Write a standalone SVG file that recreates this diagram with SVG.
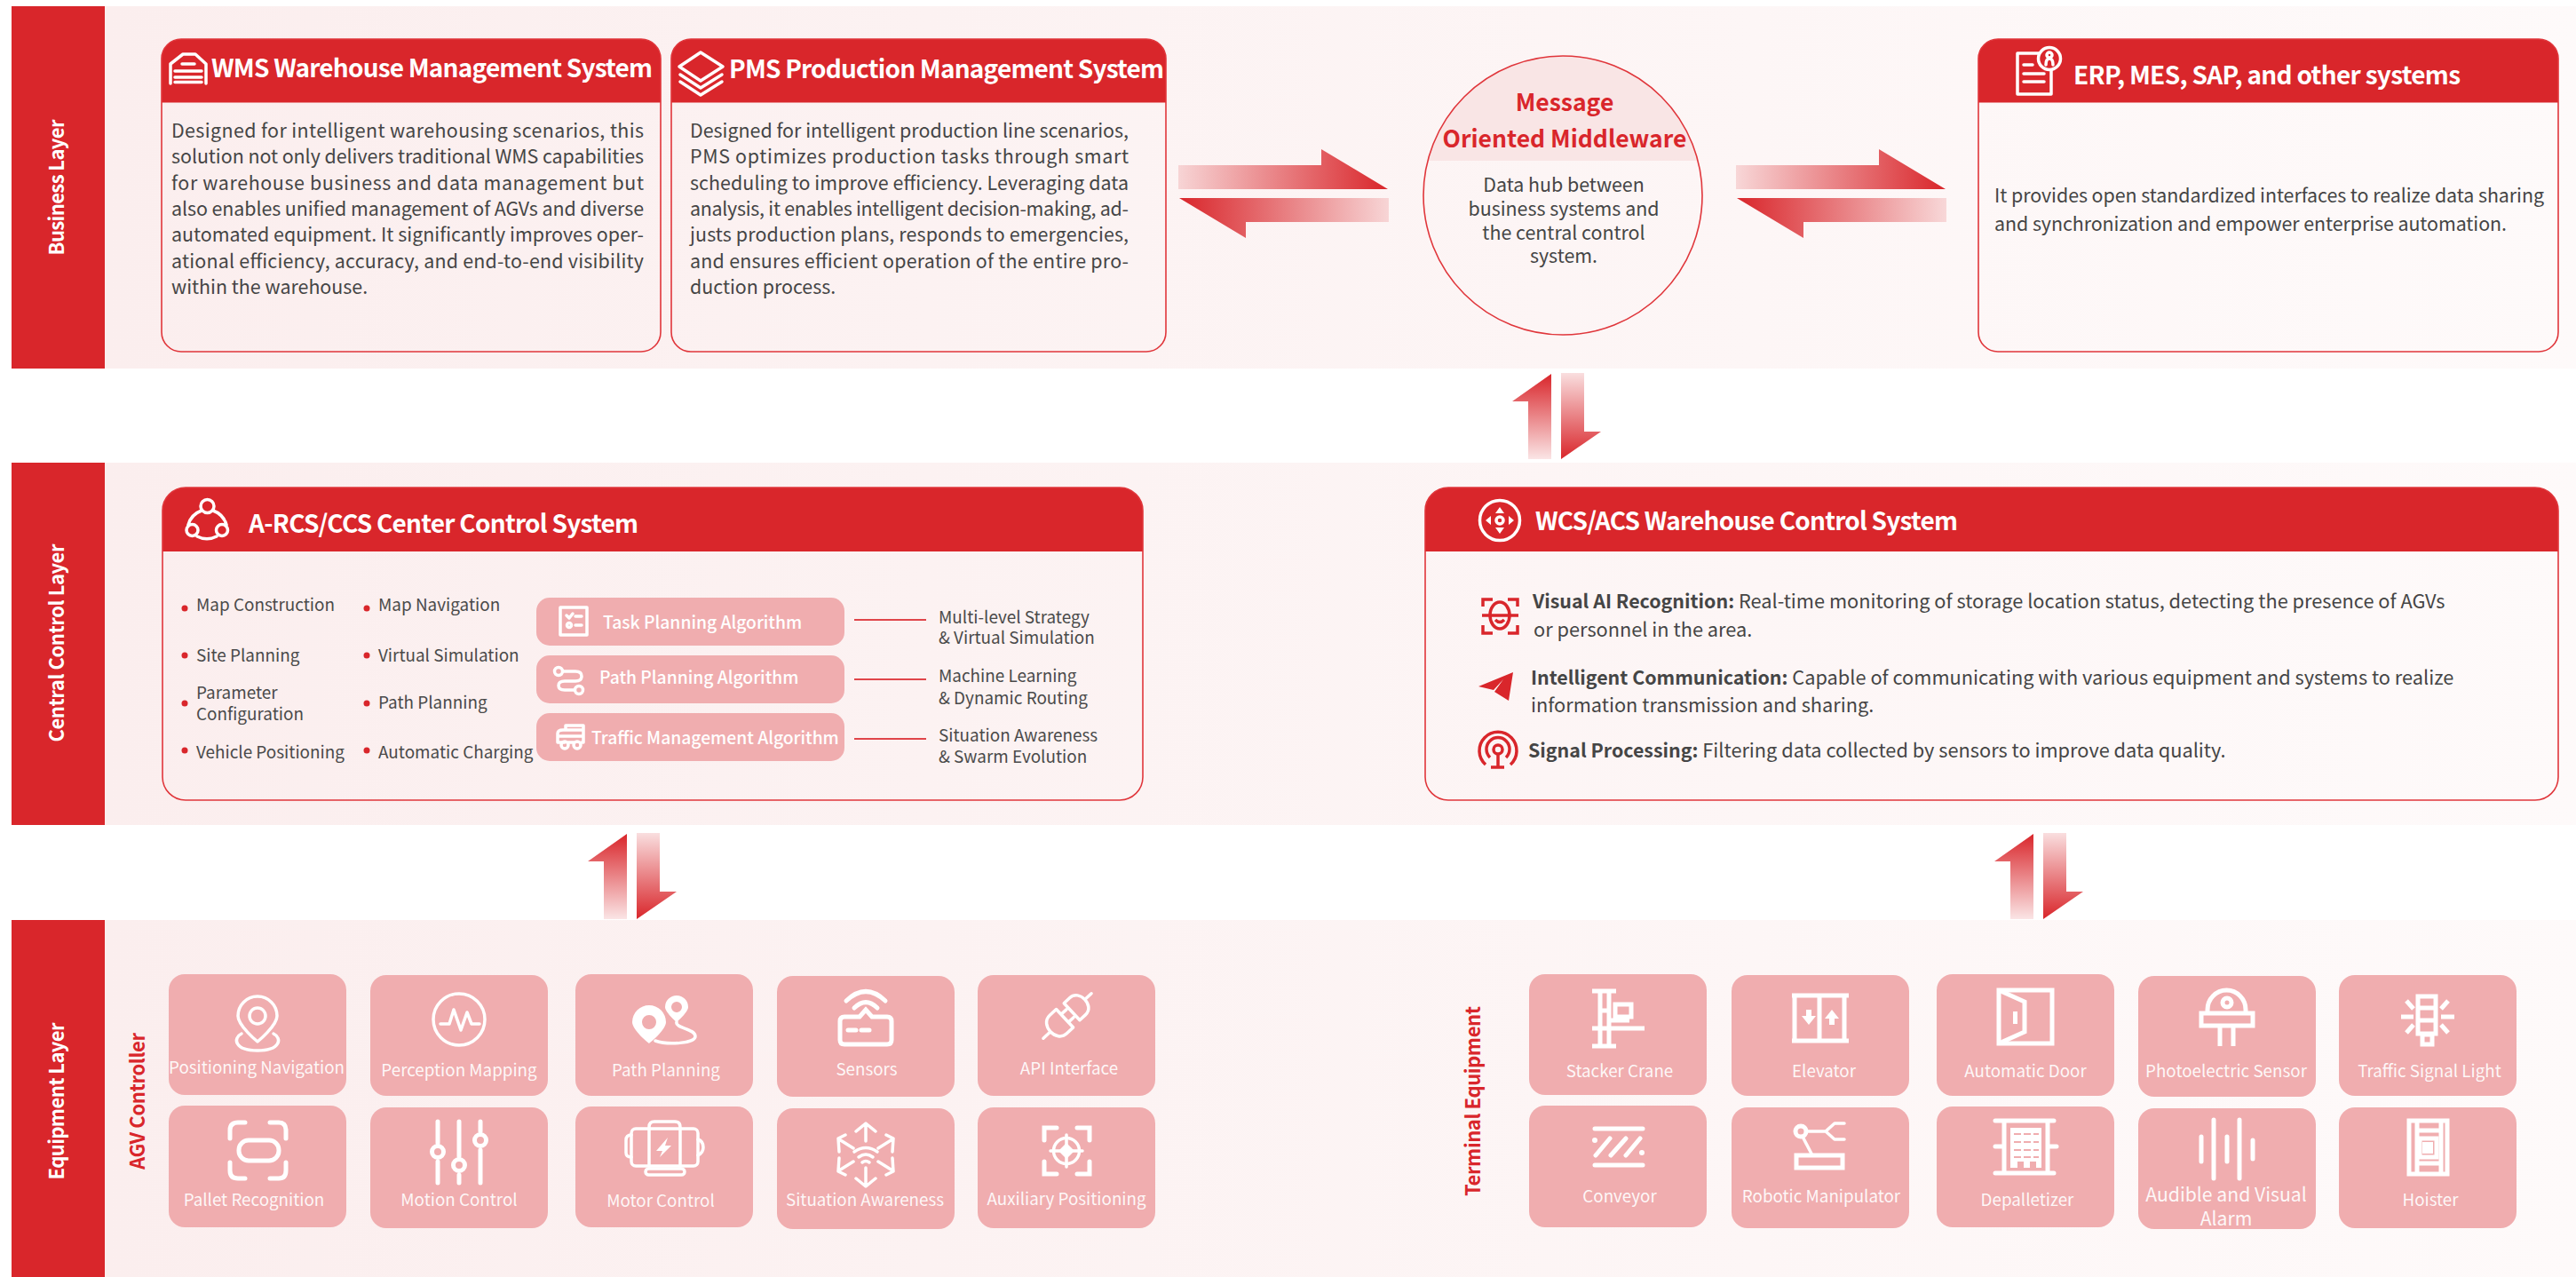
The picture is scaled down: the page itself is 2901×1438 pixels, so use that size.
<svg xmlns="http://www.w3.org/2000/svg" width="2901" height="1438" viewBox="0 0 2901 1438">
<style>
text{font-family:"Noto Sans CJK SC","Noto Sans",sans-serif}
.lay{font-weight:700;font-size:22px;fill:#fff;text-anchor:middle}
.sub{font-weight:700;font-size:22px;fill:#d9262b;text-anchor:middle}
.head{font-weight:700;font-size:28px;fill:#fff}
.body{font-size:21.4px;fill:#454545}
.wb{font-size:21.75px;fill:#454545}
.b{font-weight:700;font-size:21.4px}
.li{font-size:18.9px;fill:#4a4a4a}
.alg{font-weight:500;font-size:19.3px;fill:#fff}
.cap{font-size:18.8px;fill:#fff;text-anchor:middle;fill-opacity:.92}
.big{font-size:21.2px}
.card{fill:none;stroke:#e0363b;stroke-width:1.6}
.hd{fill:#d9262b}
.tile{fill:#f0adaf}
.ic{fill:none;stroke:#fff;stroke-width:3.5;stroke-linecap:round;stroke-linejoin:round}
.ic5{fill:none;stroke:#fff;stroke-width:5;stroke-linecap:round}
.sq{fill:none;stroke:#fff;stroke-width:5}
.wf{fill:#fff}
.ri{fill:none;stroke:#d9262b;stroke-width:3.500}
.dot{fill:#d9262b}
.pk{stroke:#f0adaf;stroke-width:2;fill:none}
.lnk{stroke:#e0454a;stroke-width:2}
</style>
<defs>
<linearGradient id="bg" x1="0" x2="1" y1="0" y2="0"><stop offset="0" stop-color="#fbeeee"/><stop offset="1" stop-color="#fefafa"/></linearGradient>
<linearGradient id="toR" x1="0" x2="1" y1="0" y2="0"><stop offset="0" stop-color="#d9262b" stop-opacity=".15"/><stop offset="1" stop-color="#d9262b"/></linearGradient>
<linearGradient id="toL" x1="1" x2="0" y1="0" y2="0"><stop offset="0" stop-color="#d9262b" stop-opacity=".15"/><stop offset="1" stop-color="#d9262b"/></linearGradient>
<linearGradient id="toU" x1="0" x2="0" y1="1" y2="0"><stop offset="0" stop-color="#d9262b" stop-opacity=".12"/><stop offset="1" stop-color="#d9262b"/></linearGradient>
<linearGradient id="toD" x1="0" x2="0" y1="0" y2="1"><stop offset="0" stop-color="#d9262b" stop-opacity=".15"/><stop offset="1" stop-color="#d9262b"/></linearGradient>
<g id="hArr"><polygon fill="url(#toR)" points="1327,186 1488,186 1488,168 1563,213 1327,213"/><polygon fill="url(#toL)" points="1564,223 1328,223 1403,268 1403,250 1564,250"/></g>
<g id="vArr"><polygon fill="url(#toU)" points="1747,421 1747,517 1721,517 1721,452 1703,452"/><polygon fill="url(#toD)" points="1758,420 1784,420 1784,486 1803,486 1758,517"/></g>
<clipPath id="cc"><circle cx="1760" cy="220" r="157"/></clipPath>
</defs>
<rect width="2901" height="1438" fill="#fff"/>

<g id="layer-business"><rect x="118" y="7" width="2783" height="408" fill="url(#bg)"/><rect x="13" y="7" width="105" height="408" fill="#d9262b"/><text class="lay" transform="translate(72 211) rotate(-90)" textLength="153">Business Layer</text></g>
<g id="layer-central"><rect x="118" y="521" width="2783" height="408" fill="url(#bg)"/><rect x="13" y="521" width="105" height="408" fill="#d9262b"/><text class="lay" transform="translate(72 724) rotate(-90)" textLength="223">Central Control Layer</text></g>
<g id="layer-equipment"><rect x="118" y="1036" width="2783" height="402" fill="url(#bg)"/><rect x="13" y="1036" width="105" height="402" fill="#d9262b"/><text class="lay" transform="translate(72 1240) rotate(-90)" textLength="177">Equipment Layer</text>
<text class="sub" transform="translate(163 1240) rotate(-90)" textLength="154">AGV Controller</text><text class="sub" transform="translate(1667 1240) rotate(-90)" textLength="214">Terminal Equipment</text></g>

<g id="connectors">
<use href="#hArr"/><use href="#hArr" transform="translate(628 0)"/>
<use href="#vArr"/><use href="#vArr" transform="translate(-1041 518)"/><use href="#vArr" transform="translate(543 518)"/>
<line class="lnk" x1="962" y1="698" x2="1043" y2="698"/><line class="lnk" x1="962" y1="765" x2="1043" y2="765"/><line class="lnk" x1="962" y1="832" x2="1043" y2="832"/>
</g>

<g id="wms">
<path class="hd" d="M182 115.500V66a22 22 0 0 1 22-22H722a22 22 0 0 1 22 22V115.500Z"/>
<rect class="card" x="182" y="44" width="562" height="352" rx="22"/>
<path class="ic" stroke-width="2.500" stroke-linecap="butt" d="M192 94V72L206 61H220L232 72V94M205 72H219M197 80H227M197 87H227M197 92.500H227"/>
<text class="head" x="238" y="87" textLength="497">WMS Warehouse Management System</text>
<g class="body">
<text x="193" y="155" textLength="532">Designed for intelligent warehousing scenarios, this</text>
<text x="193" y="184" textLength="532">solution not only delivers traditional WMS capabilities</text>
<text x="193" y="214" textLength="532">for warehouse business and data management but</text>
<text x="193" y="243" textLength="532">also enables unified management of AGVs and diverse</text>
<text x="193" y="272" textLength="532">automated equipment. It significantly improves oper-</text>
<text x="193" y="302" textLength="532">ational efficiency, accuracy, and end-to-end visibility</text>
<text x="193" y="331">within the warehouse.</text>
</g></g>

<g id="pms">
<path class="hd" d="M756 115.500V66a22 22 0 0 1 22-22H1291a22 22 0 0 1 22 22V115.500Z"/>
<rect class="card" x="756" y="44" width="557" height="352" rx="22"/>
<path class="ic" stroke-width="2.500" d="M789 59L814 75L789 91L765 75ZM766 84L789 99L813 84M766 92L789 107L813 92"/>
<text class="head" x="821" y="88" textLength="490">PMS Production Management System</text>
<g class="body">
<text x="777" y="155" textLength="494">Designed for intelligent production line scenarios,</text>
<text x="777" y="184" textLength="494">PMS optimizes production tasks through smart</text>
<text x="777" y="214" textLength="494">scheduling to improve efficiency. Leveraging data</text>
<text x="777" y="243" textLength="494">analysis, it enables intelligent decision-making, ad-</text>
<text x="777" y="272" textLength="494">justs production plans, responds to emergencies,</text>
<text x="777" y="302" textLength="494">and ensures efficient operation of the entire pro-</text>
<text x="777" y="331">duction process.</text>
</g></g>

<g id="mom">
<rect x="1600" y="60" width="320" height="121" fill="#f9e5e5" clip-path="url(#cc)"/>
<circle cx="1760" cy="220" r="157" class="card"/>
<g font-size="26.500" font-weight="700" fill="#d9262b" text-anchor="middle"><text x="1762" y="125">Message</text><text x="1762" y="166">Oriented Middleware</text></g>
<g class="body" text-anchor="middle"><text x="1761" y="216">Data hub between</text><text x="1761" y="243">business systems and</text><text x="1761" y="270">the central control</text><text x="1761" y="296">system.</text></g>
</g>

<g id="erp">
<path class="hd" d="M2228 115.500V66a22 22 0 0 1 22-22H2859a22 22 0 0 1 22 22V115.500Z"/>
<rect class="card" x="2228" y="44" width="653" height="352" rx="22"/>
<path class="ic" stroke-width="2.500" d="M2296 60H2272V106H2310V79M2279 73H2289M2279 83H2302M2279 92H2302"/>
<circle class="ic" stroke-width="2.500" cx="2308" cy="66" r="12.500"/><circle class="ic" stroke-width="2" cx="2308" cy="62" r="3"/><path class="ic" stroke-width="2" d="M2304 73Q2304 66 2308 66Q2312 66 2312 73"/>
<text class="head" x="2335" y="95" textLength="436">ERP, MES, SAP, and other systems</text>
<g class="body"><text x="2246" y="228" textLength="619">It provides open standardized interfaces to realize data sharing</text><text x="2246" y="260" textLength="577">and synchronization and empower enterprise automation.</text></g>
</g>

<g id="arcs">
<path class="hd" d="M183 621V575a26 26 0 0 1 26-26H1261a26 26 0 0 1 26 26V621Z"/>
<rect class="card" x="183" y="549" width="1104" height="352" rx="26"/>
<circle class="ic" stroke-width="2.500" cx="233.500" cy="570" r="7.500"/><circle class="ic" stroke-width="2.500" cx="216.500" cy="597" r="6.500"/><circle class="ic" stroke-width="2.500" cx="250" cy="597" r="6.500"/>
<path class="ic" stroke-width="2.500" d="M227 575A24 24 0 0 0 212 591M240 575A24 24 0 0 1 255 591M222 604A24 24 0 0 0 244 604"/>
<text class="head" x="280" y="600" textLength="439">A-RCS/CCS Center Control System</text>
<g class="dot"><circle cx="208" cy="685" r="3.500"/><circle cx="208" cy="738" r="3.500"/><circle cx="208" cy="792" r="3.500"/><circle cx="208" cy="845" r="3.500"/><circle cx="413" cy="685" r="3.500"/><circle cx="413" cy="738" r="3.500"/><circle cx="413" cy="792" r="3.500"/><circle cx="413" cy="845" r="3.500"/></g>
<g class="li"><text x="221" y="688">Map Construction</text><text x="221" y="745">Site Planning</text><text x="221" y="787">Parameter</text><text x="221" y="811">Configuration</text><text x="221" y="854">Vehicle Positioning</text>
<text x="426" y="688">Map Navigation</text><text x="426" y="745">Virtual Simulation</text><text x="426" y="798">Path Planning</text><text x="426" y="854">Automatic Charging</text>
<text x="1057" y="702">Multi-level Strategy</text><text x="1057" y="725">&amp; Virtual Simulation</text><text x="1057" y="768">Machine Learning</text><text x="1057" y="793">&amp; Dynamic Routing</text><text x="1057" y="835">Situation Awareness</text><text x="1057" y="859">&amp; Swarm Evolution</text></g>
<g class="tile"><rect x="604" y="673" width="347" height="54" rx="15"/><rect x="604" y="738" width="347" height="54" rx="15"/><rect x="604" y="803" width="347" height="54" rx="15"/></g>
<rect class="ic" stroke-width="2" x="631" y="684" width="30" height="31"/><path class="ic" stroke-width="2" d="M638 693L641 696L645 691M648 694H655M648 704H655"/><circle class="ic" stroke-width="2" cx="641" cy="704" r="2.500"/>
<circle class="ic" stroke-width="2" cx="629" cy="756" r="4.500"/><circle class="ic" stroke-width="2" cx="652" cy="777" r="4.500"/><path class="ic" stroke-width="2" d="M634 756H648Q655 756 655 761.500Q655 767 648 767H636Q629 767 629 772Q629 777 636 777H647"/>
<path class="ic" stroke-width="2" d="M636 836H628V826Q628 822 634 822H637V817H657V836H655M640 836H646M637 822H657M628 829H657"/><circle class="ic" stroke-width="2" cx="636" cy="839" r="4"/><circle class="ic" stroke-width="2" cx="650" cy="839" r="4"/>
<g class="alg"><text x="679" y="708">Task Planning Algorithm</text><text x="675" y="770">Path Planning Algorithm</text><text x="666" y="838">Traffic Management Algorithm</text></g>
</g>

<g id="wcs">
<path class="hd" d="M1605 621V575a26 26 0 0 1 26-26H2855a26 26 0 0 1 26 26V621Z"/>
<rect class="card" x="1605" y="549" width="1276" height="352" rx="26"/>
<circle class="ic" stroke-width="3" cx="1689" cy="586" r="22.500"/><path class="wf" d="M1689 571L1694 578H1684ZM1689 601L1694 594H1684ZM1673 586L1679 581V591ZM1705 586L1699 581V591Z"/><circle class="ic" stroke-width="2" cx="1689" cy="586" r="4"/>
<text class="head" x="1729" y="597" textLength="476">WCS/ACS Warehouse Control System</text>
<path class="ri" d="M1670 683V675H1681M1698 675H1709V683M1670 704V713H1681M1698 713H1709V704"/><ellipse class="ri" stroke-width="3" cx="1689" cy="693" rx="11" ry="15"/><path class="ri" d="M1669 693H1710"/><path class="ri" stroke-width="2.500" d="M1684 698Q1689 703 1694 698"/>
<path fill="#d9262b" d="M1704 757L1665 773L1682 777L1693 765L1683 779L1699 789Z"/>
<path class="ri" d="M1673 861A21 21 0 1 1 1701 861"/><path class="ri" stroke-width="3" d="M1678 853A13 13 0 1 1 1696 853"/><circle class="ri" stroke-width="3" cx="1687" cy="844" r="5"/><path class="ri" d="M1687 849V864M1679 864H1694"/>
<g class="wb">
<text x="1726" y="685"><tspan class="b">Visual AI Recognition:</tspan> Real-time monitoring of storage location status, detecting the presence of AGVs</text><text x="1727" y="717">or personnel in the area.</text>
<text x="1724" y="771"><tspan class="b">Intelligent Communication:</tspan> Capable of communicating with various equipment and systems to realize</text><text x="1724" y="802">information transmission and sharing.</text>
<text x="1721" y="853"><tspan class="b">Signal Processing:</tspan> Filtering data collected by sensors to improve data quality.</text>
</g></g>

<g id="e-pos"><rect class="tile" x="190" y="1097" width="200" height="136" rx="18"/><path class="ic" d="M290 1122a22 22 0 0 0-22 22c0 11 22 29 22 29s22-18 22-29a22 22 0 0 0-22-22Z"/><circle class="ic" cx="290" cy="1144" r="9"/><path class="ic" d="M272 1164c-10 5-8 19 18 19s28-14 18-19"/><text class="cap" x="289" y="1209">Positioning Navigation</text></g>
<g id="e-per"><rect class="tile" x="417" y="1098" width="200" height="136" rx="18"/><circle class="ic" cx="517" cy="1148" r="29"/><path class="ic" d="M496 1153H506L511 1137L519 1160L526 1140L531 1153H540"/><text class="cap" x="517" y="1212">Perception Mapping</text></g>
<g id="e-path"><rect class="tile" x="648" y="1097" width="200" height="137" rx="18"/><path class="wf" fill-rule="evenodd" d="M731 1132a19 19 0 0 0-19 19c0 9 19 24 19 24s19-15 19-24a19 19 0 0 0-19-19Zm0 11a8 8 0 1 1 0 16a8 8 0 0 1 0-16Z"/><path class="wf" fill-rule="evenodd" d="M762 1121a13 13 0 0 0-13 13c0 6 13 17 13 17s13-11 13-17a13 13 0 0 0-13-13Zm0 7a6 6 0 1 1 0 12a6 6 0 0 1 0-12Z"/><path class="ic" stroke-width="3" d="M762 1151C760 1158 783 1158 783 1167C783 1175 752 1177 738 1172"/><text class="cap" x="750" y="1212">Path Planning</text></g>
<g id="e-sen"><rect class="tile" x="875" y="1099" width="200" height="136" rx="18"/><path class="ic5" stroke-width="4" d="M951 1145H968L975 1137L982 1145H999Q1004 1145 1004 1150V1171Q1004 1176 999 1176H951Q946 1176 946 1171V1150Q946 1145 951 1145ZM955 1160H964M970 1160H979M953 1127Q975 1106 997 1127M962 1135Q975 1122 988 1135"/><text class="cap" x="976" y="1211">Sensors</text></g>
<g id="e-api"><rect class="tile" x="1101" y="1098" width="200" height="136" rx="18"/><g transform="translate(1202 1144) rotate(-43)"><path class="ic" d="M-4 -14V14H-14C-22 14-26 7-26 0C-26-7-22-14-14-14ZM-4-6H4M-4 6H4M-26 0H-37M7-13H16C23-13 27-7 27 0C27 7 23 13 16 13H7ZM27 0H37"/></g><text class="cap" x="1204" y="1210">API Interface</text></g>
<g id="e-pal"><rect class="tile" x="190" y="1245" width="200" height="137" rx="18"/><rect class="ic5" x="269" y="1284" width="45" height="23" rx="11"/><path class="ic5" d="M276 1264H268Q259 1264 259 1273V1282M304 1264H314Q322 1264 322 1273V1282M259 1309V1318Q259 1327 268 1327H276M322 1309V1318Q322 1327 314 1327H304"/><text class="cap" x="286" y="1358">Pallet Recognition</text></g>
<g id="e-mot"><rect class="tile" x="417" y="1247" width="200" height="136" rx="18"/><path class="ic5" stroke-width="4" d="M493 1263V1287M493 1308V1332M517 1263V1302M517 1323V1332M541 1263V1274M541 1295V1332"/><circle class="ic5" stroke-width="4" cx="493" cy="1297" r="6.500"/><circle class="ic5" stroke-width="4" cx="517" cy="1312" r="6.500"/><circle class="ic5" stroke-width="4" cx="541" cy="1284" r="6.500"/><text class="cap" x="517" y="1358">Motion Control</text></g>
<g id="e-mtr"><rect class="tile" x="648" y="1246" width="200" height="136" rx="18"/><rect class="ic" stroke-width="2.500" x="711" y="1271" width="75" height="42" rx="5"/><path class="ic" stroke-width="2.500" d="M731 1313V1269Q731 1263 737 1263H760Q766 1263 766 1269V1313M711 1278Q705 1278 705 1284V1298Q705 1303 711 1303M786 1283Q792 1285 792 1292Q792 1298 786 1301"/><rect class="ic" stroke-width="2.500" x="727" y="1316" width="44" height="7" rx="3.500"/><path class="wf" d="M752 1281L739 1296H746L743 1303L756 1290H749Z"/><text class="cap" x="744" y="1359">Motor Control</text></g>
<g id="e-sit"><rect class="tile" x="875" y="1248" width="200" height="136" rx="18"/><path class="ic" stroke-width="5" stroke-linecap="butt" d="M975 1285V1266M964 1274L975 1265L986 1274M975 1315V1335M964 1327L975 1336L986 1327M961 1293L945 1283M952 1278L944 1282L945 1297M989 1293L1005 1283M998 1278L1006 1282L1005 1297M961 1308L945 1318M945 1304L944 1319L952 1323M989 1308L1005 1318M1005 1304L1006 1319L998 1323"/><path class="ic" stroke-width="4" stroke-linecap="butt" d="M962 1297Q975 1288 988 1297M967 1303Q975 1297 983 1303M971 1309Q975 1306 979 1309"/><text class="cap" x="974" y="1358">Situation Awareness</text></g>
<g id="e-aux"><rect class="tile" x="1101" y="1247" width="200" height="136" rx="18"/><path class="ic5" stroke-width="6" stroke-linecap="butt" d="M1176 1284V1270H1190M1227 1284V1270H1213M1176 1308V1322H1190M1227 1308V1322H1213"/><circle class="ic" stroke-width="4" cx="1201" cy="1296" r="14.500"/><path class="ic" stroke-width="4" d="M1183 1296H1219M1201 1278V1314"/><path class="wf" d="M1201 1287L1210 1296L1201 1305L1192 1296Z"/><text class="cap" x="1201" y="1357">Auxiliary Positioning</text></g>

<g id="t-sta"><rect class="tile" x="1722" y="1097" width="200" height="136" rx="18"/><path class="sq" stroke-width="3" d="M1802 1116V1178M1812 1116V1178M1793 1116H1820M1793 1178H1820M1793 1158H1852M1812 1149H1835M1802 1138H1812"/><rect class="sq" stroke-width="3" x="1819" y="1131" width="18" height="14"/><text class="cap" x="1824" y="1213">Stacker Crane</text></g>
<g id="t-ele"><rect class="tile" x="1950" y="1098" width="200" height="136" rx="18"/><path class="sq" d="M2021 1121V1172M2077 1121V1172M2049 1121V1172M2018 1121H2082M2018 1172H2082" stroke-width="4"/><path class="wf" d="M2034 1137H2040V1144H2045L2037 1154L2029 1144H2034ZM2060 1154H2066V1147H2071L2063 1137L2055 1147H2060Z"/><text class="cap" x="2054" y="1213">Elevator</text></g>
<g id="t-aut"><rect class="tile" x="2181" y="1097" width="200" height="137" rx="18"/><rect class="sq" x="2251" y="1115" width="60" height="60"/><path class="sq" stroke-width="4" d="M2251 1115L2280 1128V1162L2251 1175"/><rect class="wf" x="2267" y="1139" width="5" height="14"/><text class="cap" x="2281" y="1213">Automatic Door</text></g>
<g id="t-pho"><rect class="tile" x="2408" y="1099" width="200" height="136" rx="18"/><path class="sq" d="M2486 1140V1137A21.500 22 0 0 1 2529 1137V1140M2500 1157V1178M2515 1157V1178"/><rect class="sq" x="2479" y="1141" width="58" height="14"/><circle class="sq" stroke-width="4" cx="2508" cy="1129" r="5"/><text class="cap" x="2507" y="1213">Photoelectric Sensor</text></g>
<g id="t-tra"><rect class="tile" x="2634" y="1098" width="200" height="136" rx="18"/><rect class="sq" x="2723" y="1122" width="20" height="42"/><path class="sq" d="M2723 1135H2743M2723 1149H2743M2704 1145H2718M2749 1145H2764M2710 1127L2718 1136M2757 1127L2749 1136M2710 1163L2718 1154M2757 1163L2749 1154"/><rect class="sq" stroke-width="4" x="2728" y="1165" width="11" height="11"/><text class="cap" x="2736" y="1213">Traffic Signal Light</text></g>
<g id="t-con"><rect class="tile" x="1722" y="1245" width="200" height="137" rx="18"/><path class="ic5" d="M1796 1271H1850M1796 1312H1850M1797 1301L1813 1282M1814 1301L1831 1282M1831 1301L1847 1282"/><circle class="wf" cx="1796" cy="1284" r="3"/><circle class="wf" cx="1849" cy="1298" r="3"/><text class="cap" x="1824" y="1354">Conveyor</text></g>
<g id="t-rob"><rect class="tile" x="1950" y="1247" width="200" height="136" rx="18"/><rect class="sq" stroke-width="4" x="2023" y="1301" width="52" height="14"/><circle class="sq" stroke-width="4" cx="2028" cy="1274" r="6"/><path class="ic" stroke-width="4" d="M2030 1280L2041 1301M2034 1274H2056L2066 1265H2077M2056 1274L2066 1283H2077"/><text class="cap" x="2051" y="1354">Robotic Manipulator</text></g>
<g id="t-dep"><rect class="tile" x="2181" y="1246" width="200" height="136" rx="18"/><path class="ic5" d="M2247 1262H2313M2247 1321H2313M2247 1291H2257M2306 1291H2316M2257 1262V1321M2306 1262V1321"/><path class="wf" d="M2264 1270H2299V1315H2293V1308H2286V1315H2279V1308H2272V1315H2264Z"/><path class="pk" stroke-dasharray="8 3" d="M2268 1277H2296M2268 1286H2296M2268 1295H2296M2268 1303H2296"/><text class="cap" x="2283" y="1358">Depalletizer</text></g>
<g id="t-aud"><rect class="tile" x="2408" y="1248" width="200" height="136" rx="18"/><path class="ic5" stroke-width="5.500" d="M2479 1280V1308M2493 1261V1327M2508 1280V1308M2522 1261V1327M2537 1284V1305"/><text class="cap big" x="2507" y="1353">Audible and Visual</text><text class="cap big" x="2507" y="1380">Alarm</text></g>
<g id="t-hoi"><rect class="tile" x="2634" y="1247" width="200" height="136" rx="18"/><rect class="sq" x="2713" y="1262" width="43" height="60"/><path class="sq" stroke-width="3" d="M2722 1264V1320M2749 1264V1320M2722 1273H2749M2722 1310H2749"/><rect class="sq" stroke-width="3" x="2725" y="1282" width="19" height="21"/><rect class="wf" x="2728" y="1286" width="12" height="13"/><text class="cap" x="2737" y="1358">Hoister</text></g>
</svg>
